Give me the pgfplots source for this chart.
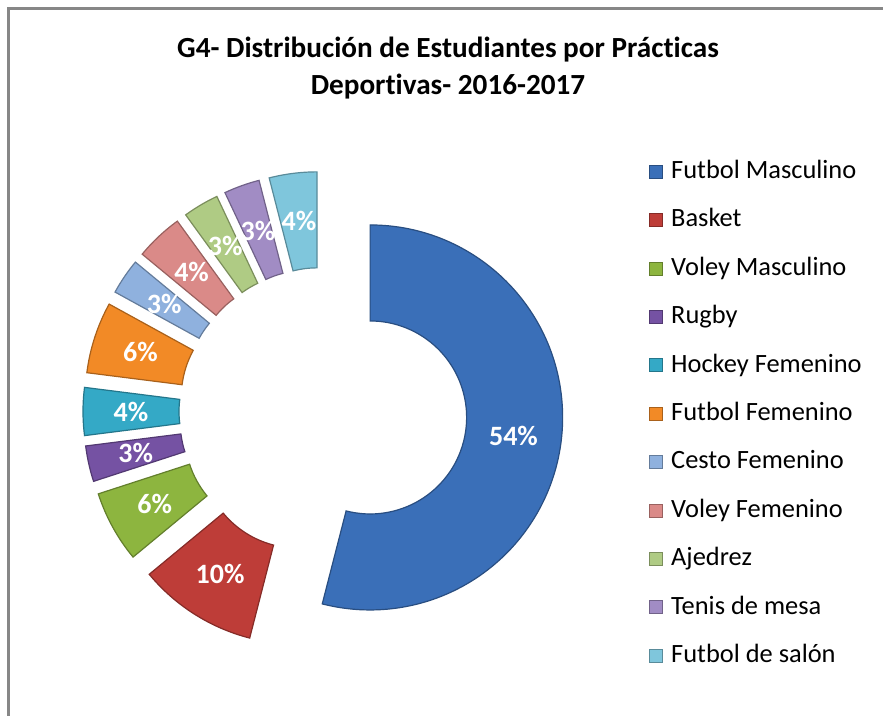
\documentclass[border=0pt]{standalone}
\usepackage{fontspec}
\setmainfont{Carlito}[Ligatures=NoCommon]
\usepackage{pgfplots}
\pgfplotsset{compat=1.18}
\usepackage{pgfplotstable}

\definecolor{s0}{HTML}{3A6FB8}
\definecolor{s1}{HTML}{BE3D38}
\definecolor{s2}{HTML}{8DB53F}
\definecolor{s3}{HTML}{7552A3}
\definecolor{s4}{HTML}{34A9C6}
\definecolor{s5}{HTML}{F28A26}
\definecolor{s6}{HTML}{8FB1DE}
\definecolor{s7}{HTML}{DA8A88}
\definecolor{s8}{HTML}{AFCB84}
\definecolor{s9}{HTML}{A18CC4}
\definecolor{s10}{HTML}{7FC6DC}

% percentages as shown on the chart
\pgfplotstableread[col sep=comma]{
deporte,pct
Futbol Masculino,54
Basket,10
Voley Masculino,6
Rugby,3
Hockey Femenino,4
Futbol Femenino,6
Cesto Femenino,3
Voley Femenino,4
Ajedrez,3
Tenis de mesa,3
Futbol de salón,4
}\deportes

\begin{document}
\begin{tikzpicture}
\begin{axis}[
  width=441.5pt, height=358pt, scale only axis,
  xmin=0, xmax=883, ymin=0, ymax=716, y dir=reverse,
  enlargelimits=false, axis lines=none, clip=false,
  legend image code/.code={\draw[#1,line width=0.4pt] (0pt,-3pt) rectangle (6.5pt,3.5pt);},
  legend cell align=left,
  legend style={at={(axis cs:643,154)}, anchor=north west, draw=none, fill=none,
    font=\fontsize{13.2}{15}\selectfont, row sep=10.4pt,
    nodes={inner sep=1pt, text height=9pt, text depth=2.8pt},
    /tikz/every even column/.append style={column sep=2pt},
    /tikz/every odd column/.append style={column sep=3pt}},
]
% frame of the chart area
\draw[black!47, line width=1.2pt] (axis cs:8.5,716) -- (axis cs:8.5,8.5) -- (axis cs:883,8.5);
% title
\node[align=center, font=\bfseries\fontsize{14.6}{18.5}\selectfont] at (axis cs:448,68.5)
  {G4- Distribución de Estudiantes por Prácticas\\Deportivas- 2016-2017};

% exploded donut: centre (323,411.5), outer r 192.5, inner r 96.5, explosion 47.5
\def\cum{0}
\pgfplotsforeachungrouped \i in {0,...,10}{%
  \pgfplotstablegetelem{\i}{pct}\of\deportes \let\p\pgfplotsretval
  \pgfplotstablegetelem{\i}{deporte}\of\deportes \let\nm\pgfplotsretval
  \pgfmathsetmacro\aA{90-3.6*\cum}
  \pgfmathsetmacro\aB{90-3.6*(\cum+\p)}
  \pgfmathsetmacro\aM{(\aA+\aB)/2}
  \pgfmathsetmacro\ox{323+47.5*cos(\aM)+192.5*cos(\aA)}
  \pgfmathsetmacro\oy{411.5-47.5*sin(\aM)-192.5*sin(\aA)}
  \pgfmathsetmacro\ix{323+47.5*cos(\aM)+96.5*cos(\aB)}
  \pgfmathsetmacro\iy{411.5-47.5*sin(\aM)-96.5*sin(\aB)}
  \pgfmathsetmacro\lx{323+192*cos(\aM)}
  \pgfmathsetmacro\ly{411.5-192*sin(\aM)}
  \edef\temp{%
    \noexpand\fill[s\i, draw=s\i!70!black, line width=0.6pt]
      (axis cs:\ox,\oy) arc[start angle=\aA, end angle=\aB, radius=96.25pt]
      -- (axis cs:\ix,\iy) arc[start angle=\aB, end angle=\aA, radius=48.25pt] -- cycle;
    \noexpand\node[text=white, font=\noexpand\bfseries\noexpand\fontsize{14}{16}\noexpand\selectfont]
      at (axis cs:\lx,\ly) {\p\noexpand\%};
    \noexpand\addlegendimage{fill=s\i, draw=s\i!70!black}
    \noexpand\addlegendentry{\nm}
  }\temp
  \pgfmathsetmacro\cum{\cum+\p}
}
\end{axis}
\pgfresetboundingbox
\useasboundingbox (current axis.south west) rectangle (current axis.north east);
\end{tikzpicture}
\end{document}
